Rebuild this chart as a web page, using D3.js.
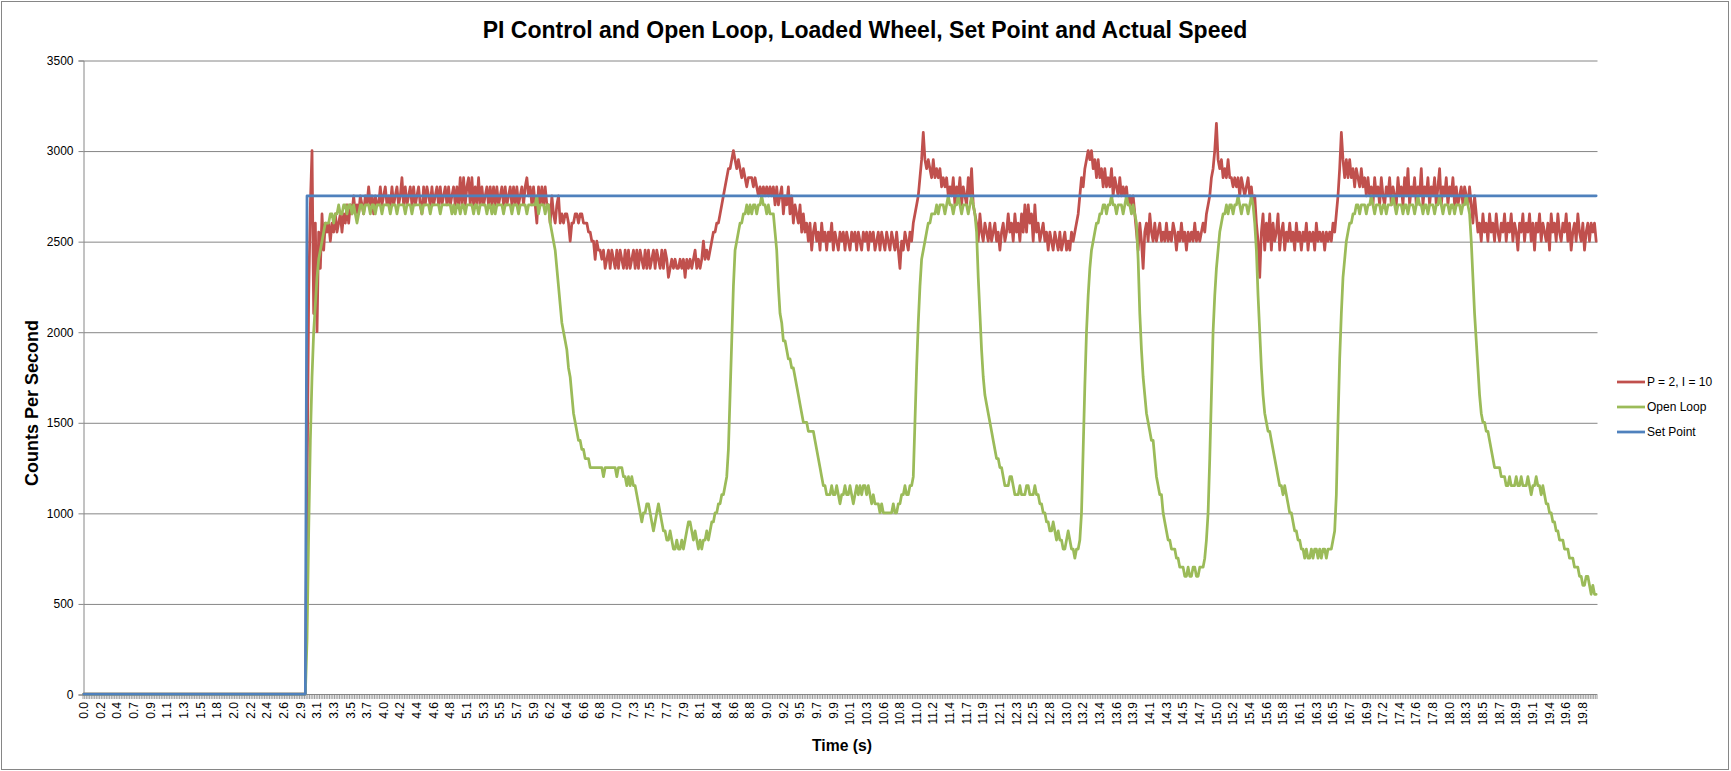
<!DOCTYPE html>
<html><head><meta charset="utf-8">
<script src="https://cdn.jsdelivr.net/npm/d3@7"></script>
<style>body{margin:0;background:#fff} svg{display:block}</style>
</head><body><svg id="chart" width="1731" height="771"></svg>
<script>
const chartTitle = "PI Control and Open Loop, Loaded Wheel, Set Point and Actual Speed";
const xTitle = "Time (s)";
const yTitle = "Counts Per Second";
const seriesNames = ["P = 2, I = 10", "Open Loop", "Set Point"];
const seriesColors = ["#C0504D", "#9BBB59", "#4F81BD"];
const sampleCount = 909;   // categories on the time axis
const labelEvery = 10;     // one label every 10 samples
const tickLabels = ["0.0","0.2","0.4","0.7","0.9","1.1","1.3","1.5","1.8","2.0","2.2","2.4","2.6","2.9","3.1","3.3","3.5","3.7","4.0","4.2","4.4","4.6","4.8","5.1","5.3","5.5","5.7","5.9","6.2","6.4","6.6","6.8","7.0","7.3","7.5","7.7","7.9","8.1","8.4","8.6","8.8","9.0","9.2","9.5","9.7","9.9","10.1","10.3","10.6","10.8","11.0","11.2","11.4","11.7","11.9","12.1","12.3","12.5","12.8","13.0","13.2","13.4","13.6","13.9","14.1","14.3","14.5","14.7","15.0","15.2","15.4","15.6","15.8","16.1","16.3","16.5","16.7","16.9","17.2","17.4","17.6","17.8","18.0","18.3","18.5","18.7","18.9","19.1","19.4","19.6","19.8"];
const yTicks = [0, 500, 1000, 1500, 2000, 2500, 3000, 3500];

// P = 2, I = 10 (one value per sample)
const piControl = [
0,0,0,0,0,0,0,0,0,0,0,0,0,0,0,0,0,0,0,0,
0,0,0,0,0,0,0,0,0,0,0,0,0,0,0,0,0,0,0,0,
0,0,0,0,0,0,0,0,0,0,0,0,0,0,0,0,0,0,0,0,
0,0,0,0,0,0,0,0,0,0,0,0,0,0,0,0,0,0,0,0,
0,0,0,0,0,0,0,0,0,0,0,0,0,0,0,0,0,0,0,0,
0,0,0,0,0,0,0,0,0,0,0,0,0,0,0,0,0,0,0,0,
0,0,0,0,0,0,0,0,0,0,0,0,0,0,
1100,2200,2700,3000,2100,2600,2000,2550,2350,2650,2450,2600,2550,
2600,2500,2600,2550,2650,2550,2600,2650,2550,2650,
2600,2700,2600,2700,2650,2750,2650,2700,2650,2750,
2700,2650,2750,2700,2800,2700,2750,2650,2750,2700,
2700,2800,2700,2750,2800,2700,2750,2700,2800,2700,
2750,2800,2700,2750,2850,2700,2800,2700,2750,2800,
2700,2800,2700,2750,2800,2700,2650,2800,2700,2800,
2750,2700,2800,2700,2750,2800,2700,2800,2700,2750,
2800,2700,2800,2700,2750,2800,2700,2800,2700,2850,
2700,2850,2700,2800,2850,2700,2850,2700,2800,2700,
2850,2700,2800,2700,2750,2800,2700,2800,2700,2800,
2700,2800,2700,2750,2800,2700,2800,2700,2750,2800,
2700,2800,2700,2800,2700,2750,2800,2700,2800,2850,
2750,2800,2700,2800,2700,2600,2800,2700,2800,2700,
2800,2700,
2700,2600,2750,2650,2600,2700,2750,2600,2650,2600,2650,2650,2600,2500,2600,2600,2650,2650,2600,2650,2650,2600,2600,2600,2550,2550,2500,2500,2400,2500,2450,2450,2400,
2450,2350,2400,2450,2350,2450,2400,2350,2450,2350,
2450,2400,2350,2450,2350,2450,2350,2400,2450,2350,
2450,2350,2450,2400,2350,2450,2350,2450,2350,2400,
2450,2350,2450,2400,2350,2450,2350,2450,2400,2300,
2350,2400,2350,2400,2350,2350,2400,2350,2400,2300,
2400,2350,2400,2350,2400,2450,2350,2400,2350,2400,
2500,2400,2450,2400,2450,2500,2550,2550,2600,2600,2650,2700,2750,2800,2850,2900,2900,2950,3000,
2950,2900,2950,2900,2850,2900,2850,2800,2850,2850,2850,2800,2850,2800,2750,2800,2750,2800,2750,2800,2750,2800,
2750,2800,2700,2800,2700,2750,2800,2650,2750,2700,
2800,2650,2750,2600,2700,2650,2600,2700,2550,2650,
2550,2600,2500,2600,2450,2550,2600,2500,2550,2450,
2600,2500,2550,2450,2550,2500,2600,2450,2550,2500,
2450,2550,2500,2550,2450,2550,2500,2450,2550,2500,
2550,2450,2550,2500,2450,2550,2500,2550,2450,2550,
2500,2550,2450,2500,2550,2450,2550,
2500,2450,2550,2500,2450,2550,2500,2450,2550,2450,
2350,2500,2450,2550,2500,2450,2550,2500,2600,2650,
2700,2750,2850,2950,3100,2950,2900,2950,2900,2850,
2950,2850,2900,2850,2900,2800,2850,2800,2850,2750,
2800,
2750,2850,2700,2800,2750,2850,2700,2800,2750,2700,2850,2750,2900,2700,2650,
2600,2500,2650,2550,2500,2600,2550,2500,2600,2500,
2550,2600,2500,2550,2450,2550,2600,2500,2550,2650,
2550,2600,2500,2650,2550,2600,2500,2650,2550,2700,
2550,2700,2600,2650,2500,2700,2550,2600,2500,2550,
2600,2500,2550,2450,2550,2500,2450,2550,2500,2450,
2550,2450,2500,2550,2450,2500,2450,2550,2500,2550,
2600,2650,2750,2850,2800,2900,2950,3000,2950,3000,
2900,2950,2850,2950,2850,2900,2800,2900,2800,2850,
2800,2900,2750,2850,2800,2750,2850,2750,2800,2750,
2800,2700,2750,2700,2750,2650,
2550,2450,2600,2500,2350,2550,2600,2500,2650,2550,
2500,2600,2500,2550,2600,2500,2550,2500,2600,2500,
2550,2500,2600,2550,2450,2550,2500,2600,2500,2550,
2450,2550,2500,2550,2500,2600,2500,2550,2500,2550,
2600,2550,2650,
2700,2750,2850,2900,3000,3150,2950,2900,2950,2850,
2900,2850,2950,2850,2850,2800,2850,2800,2850,2750,
2850,2800,2750,2800,2850,2750,2800,2700,2750,2600,
2500,2300,2550,2650,2450,2600,2500,2650,2450,2600,
2500,2550,2650,2450,2550,2600,2450,2550,2500,2600,
2500,2550,2450,2600,2500,2550,2450,2550,2500,2600,
2450,2550,2500,2550,2450,2600,2500,2550,2500,2550,
2450,2550,2500,2550,2500,2600,2550,2650,
2750,2900,3100,2950,2850,2950,2850,2950,2850,2900,2800,2900,2850,2800,2900,2800,2850,2750,
2850,2750,2800,2700,2850,2750,2800,2700,2850,2750,
2700,2800,2750,2850,2700,2800,2750,2700,2850,2750,
2800,2700,2850,2750,2900,2700,2800,2750,2850,2700,
2800,2750,2900,2700,2800,2750,2850,2700,2800,2750,
2850,2700,2800,2900,2700,2800,2750,2850,2700,2800,
2750,2850,2700,2800,2700,2750,2800,2700,2800,2750,
2700,2800,2700,2600,2750,2650,2550,
2600,2500,2650,2550,2600,2500,2650,2550,2600,2500,
2650,2550,2500,2600,2550,2650,2500,2600,2550,2650,
2500,2600,2550,2450,2600,2550,2650,2500,2600,2550,
2650,2500,2600,2450,2600,2550,2650,2500,2600,2550,
2500,2600,2450,2650,2550,2600,2500,2650,2550,2500,
2600,2550,2650,2500,2600,2450,2550,2600,2500,2650,
2550,2500,2600,2450,2550,2600,2500,2600,2550,2600,2500
];

// Open Loop (one value per sample)
const openLoop = [
0,0,0,0,0,0,0,0,0,0,0,0,0,0,0,0,0,0,0,0,
0,0,0,0,0,0,0,0,0,0,0,0,0,0,0,0,0,0,0,0,
0,0,0,0,0,0,0,0,0,0,0,0,0,0,0,0,0,0,0,0,
0,0,0,0,0,0,0,0,0,0,0,0,0,0,0,0,0,0,0,0,
0,0,0,0,0,0,0,0,0,0,0,0,0,0,0,0,0,0,0,0,
0,0,0,0,0,0,0,0,0,0,0,0,0,0,0,0,0,0,0,0,
0,0,0,0,0,0,0,0,0,0,0,0,0,0,
300,900,1400,1750,2000,2150,2300,2400,2450,2500,2550,2600,2600,
2600,2650,2650,2600,2650,2650,2700,2650,2650,2700,2700,2650,2700,2700,2650,2700,2650,2600,2650,
2700,2700,2650,2700,2700,2700,2650,2700,2700,2650,
2700,2700,2700,2650,2700,2700,2700,2700,2650,2700,
2700,2700,2650,2700,2700,2700,2700,2650,2700,2700,
2700,2650,2700,2700,2700,2700,2700,2650,2700,2700,
2700,2700,2650,2700,2700,2700,2700,2700,2650,2700,
2700,2700,2700,2700,2700,2650,2700,2650,2700,2700,
2650,2700,2700,2650,2700,2700,2700,2700,2650,2700,
2700,2650,2700,2700,2700,2700,2650,2700,2700,2650,
2700,2650,2700,2700,2700,2700,2650,2700,2700,2700,
2700,2650,2700,2700,2700,2650,2700,2700,2700,2700,
2650,2700,2700,2700,2700,2700,
2750,2650,2700,2700,2700,2650,2700,
2700,2600,2550,2500,2450,2350,2250,2150,2050,2000,1950,1900,1800,1750,1650,1550,1500,1450,1400,1400,1350,1350,1300,1300,1300,1250,1250,1250,
1250,1250,1250,1250,1250,1200,1250,1250,1250,1250,1250,1250,1250,1200,1250,1250,1250,
1200,1200,1150,1200,1150,1200,1150,1150,
1100,1050,1000,950,1000,1000,1050,1050,1000,950,900,950,1000,1050,1000,
950,900,900,850,850,900,850,800,
800,850,800,800,850,800,850,900,950,950,900,850,900,850,800,850,800,850,850,900,
850,900,950,950,1000,1000,1050,1050,1100,1100,1150,1200,
1350,1650,1950,2250,2450,2500,2550,2600,2600,2650,2650,2700,2650,
2700,2650,2700,2700,2650,2700,2700,2750,2700,2700,2650,2700,2650,
2650,2650,2550,2450,2250,2100,2050,1950,1950,1900,1850,1850,1800,1800,1750,1700,1650,1600,1550,1500,1500,1500,1450,1450,1450,1450,1400,1350,1300,1250,1200,1150,1150,1100,
1100,1100,1150,1100,1100,1150,1100,1050,1100,1100,1150,1100,1100,1150,1100,1050,1100,1150,1100,1150,1100,1150,1150,1100,1150,1100,1050,1100,1050,
1050,1050,1000,1050,1000,1000,1000,1000,1000,1000,1050,1000,1000,1050,1050,
1100,1100,1150,1100,1100,1150,1150,1200,1500,
1800,2050,2250,2400,2450,2500,2550,2600,2600,2650,2650,2650,2700,2650,2700,
2700,2700,2650,2700,2750,2700,2700,2650,2700,2700,2750,2700,2650,2700,2700,2700,2650,2700,2750,2700,
2650,2550,2300,2100,1900,1750,1650,1600,1550,1500,1450,1400,1350,1300,1300,1250,1250,1200,1150,1150,1150,1200,1200,1150,1100,
1100,1100,1150,1100,1100,1100,1150,1150,1100,1100,1100,1150,1100,1100,1050,1050,
1000,1000,950,950,900,900,950,900,850,900,850,850,800,800,850,900,850,800,800,750,800,800,850,
1000,1350,1700,2000,2200,2350,2450,2500,2550,2600,2600,2650,2650,
2700,2700,2650,2700,2700,2750,2700,2700,2650,2700,2700,2700,2650,2700,2750,2700,2700,2650,2700,2650,
2600,2400,2100,1900,1750,1650,1550,1500,1450,1400,1400,1300,1200,1150,1100,1100,1000,950,900,850,850,800,800,800,750,750,700,700,700,650,
650,700,650,650,700,700,650,650,700,700,700,750,850,
1000,1300,1650,2000,2200,2350,2450,2550,2600,2650,2650,2700,2650,2700,2700,2650,
2700,2700,2750,2700,2650,2700,2700,2700,2650,2700,2750,2700,
2600,2450,2200,2000,1800,1650,1550,1500,1450,1450,1400,1350,1300,1250,1200,1150,1150,1100,1150,1100,1050,1000,1000,950,900,900,850,850,800,800,
750,800,750,750,800,750,800,800,750,800,750,800,800,750,800,800,800,850,
900,1100,1500,1850,2100,2300,2400,2500,2550,2600,2600,2650,2650,2700,
2700,2650,2700,2700,2700,2650,2700,2700,2750,2700,
2650,2700,2700,2700,2650,2700,2700,2650,2700,2700,
2700,2750,2700,2650,2700,2700,2700,2650,2700,2700,
2650,2700,2700,2700,2650,2700,2750,2700,2700,2650,
2700,2700,2650,2700,2700,2700,2650,2700,2700,2750,
2700,2650,2700,2700,2700,2650,2700,2700,2650,2700,
2700,2700,2650,2700,2700,2750,2700,
2650,2500,2300,2100,1950,1800,1650,1550,1500,1500,1450,1450,1400,1350,1300,1250,1250,1250,1250,1200,1200,1200,1150,
1150,1200,1150,1150,1150,1200,1150,1150,1200,1150,1150,1150,1200,1150,1100,1150,1150,1200,1150,1150,1100,1150,1100,1050,
1050,1000,1000,950,950,900,900,850,850,850,800,800,800,750,750,750,700,700,700,650,650,600,600,650,650,600,550,600,550,550
];

// Set Point: 0 until sample 133, then 2750 to the end
const setPointIdx = [0, 133, 134, 908];
const setPointVal = [0, 0, 2750, 2750];

// ---------------- drawing ----------------
const W = 1731, H = 771;
const M = {left: 83, right: 1597, top: 60, bottom: 694};
const svg = d3.select("#chart");
const FONT = "'Liberation Sans', Arial, sans-serif";
const GRID = "#868686";

svg.append("rect").attr("x", 1.5).attr("y", 1.5).attr("width", 1727).attr("height", 768)
  .attr("fill", "#fff").attr("stroke", GRID).attr("stroke-width", 1);

const x = d3.scaleBand().domain(d3.range(sampleCount)).range([M.left, M.right]).padding(0);
const bw = x.bandwidth();
const cx = i => x(i) + bw / 2;
const y = d3.scaleLinear().domain([0, 3500]).range([M.bottom, M.top]);

// gridlines + y axis
const yAxis = d3.axisLeft(y).tickValues(yTicks).tickSize(5).tickPadding(5).tickFormat(d3.format("d"));
const gy = svg.append("g").attr("transform", `translate(${M.left + 0.5},0.5)`).call(yAxis);
gy.select(".domain").attr("stroke", GRID);
gy.selectAll(".tick line").attr("stroke", GRID);
gy.selectAll(".tick text").attr("font-family", FONT).attr("font-size", 12).attr("fill", "#000");
const grid = d3.axisLeft(y).tickValues(yTicks.filter(v => v > 0)).tickSize(-(M.right - M.left)).tickFormat("");
const gg = svg.append("g").attr("transform", `translate(${M.left + 0.5},0.5)`).call(grid);
gg.select(".domain").remove();
gg.selectAll(".tick line").attr("stroke", GRID);

// x axis: a tick at every category boundary, a label every 10 categories
const gx = svg.append("g");
gx.append("line").attr("x1", M.left).attr("x2", M.right).attr("y1", M.bottom + 0.5).attr("y2", M.bottom + 0.5)
  .attr("stroke", GRID);
gx.selectAll("line.tk").data(d3.range(sampleCount + 1)).join("line").attr("class", "tk")
  .attr("x1", d => (d < sampleCount ? x(d) : M.right)).attr("x2", d => (d < sampleCount ? x(d) : M.right))
  .attr("y1", M.bottom).attr("y2", M.bottom + 5).attr("stroke", GRID).attr("stroke-width", 0.8);
gx.selectAll("text").data(tickLabels).join("text")
  .attr("transform", (d, j) => `translate(${cx(j * labelEvery)},${M.bottom + 8}) rotate(-90)`)
  .attr("text-anchor", "end").attr("dy", "0.35em")
  .attr("font-family", FONT).attr("font-size", 12).attr("fill", "#000").text(d => d);

// series
const line = d3.line().x(d => cx(d[0])).y(d => y(d[1])).curve(d3.curveLinear);
const redPts = piControl.map((v, i) => [i, v]);
const greenPts = openLoop.map((v, i) => [i, v]);
const bluePts = setPointIdx.map((d, k) => [d, setPointVal[k]]);
[redPts, greenPts, bluePts].forEach((pts, k) => {
  svg.append("path").attr("d", line(pts)).attr("fill", "none")
    .attr("stroke", seriesColors[k]).attr("stroke-width", 2.75)
    .attr("stroke-linejoin", "round").attr("stroke-linecap", "round");
});

// legend
const legY = [382, 407, 432];
const lg = svg.append("g");
seriesNames.forEach((n, k) => {
  lg.append("line").attr("x1", 1617).attr("x2", 1645).attr("y1", legY[k]).attr("y2", legY[k])
    .attr("stroke", seriesColors[k]).attr("stroke-width", 2.75);
  lg.append("text").attr("x", 1647).attr("y", legY[k]).attr("dy", "0.35em")
    .attr("font-family", FONT).attr("font-size", 12).attr("fill", "#000").text(n);
});

// titles
function fitWidth(sel, target) {
  const w = sel.node().getComputedTextLength();
  const fs = parseFloat(sel.attr("font-size"));
  if (w > 0) sel.attr("font-size", (fs * target / w).toFixed(2));
}
const t = svg.append("text").attr("x", 865).attr("y", 38).attr("text-anchor", "middle")
  .attr("font-family", FONT).attr("font-weight", "bold").attr("font-size", 20).attr("fill", "#000").text(chartTitle);
fitWidth(t, 765);
const xt = svg.append("text").attr("x", 842).attr("y", 751).attr("text-anchor", "middle")
  .attr("font-family", FONT).attr("font-weight", "bold").attr("font-size", 14).attr("fill", "#000").text(xTitle);
fitWidth(xt, 60);
const yt = svg.append("text").attr("transform", "translate(38,403) rotate(-90)").attr("text-anchor", "middle")
  .attr("font-family", FONT).attr("font-weight", "bold").attr("font-size", 14).attr("fill", "#000").text(yTitle);
fitWidth(yt, 166);

if (piControl.length !== sampleCount || openLoop.length !== sampleCount) {
  svg.append("text").attr("x", 200).attr("y", 120).attr("fill", "red").attr("font-size", 20)
    .text(`len red ${piControl.length} green ${openLoop.length}`);
}
</script></body></html>
